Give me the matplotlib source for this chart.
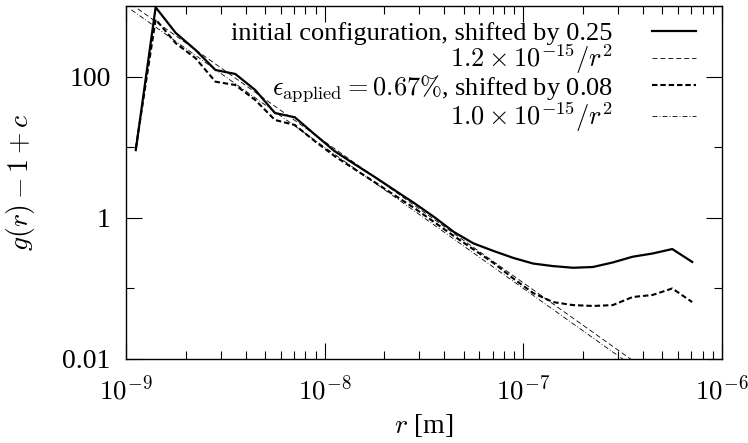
import numpy as np
import matplotlib
matplotlib.use("Agg")
import matplotlib.pyplot as plt
from matplotlib.ticker import LogLocator, FixedLocator, FixedFormatter, NullFormatter

plt.rcParams['font.family'] = ['Liberation Serif', 'DejaVu Serif']
plt.rcParams['mathtext.fontset'] = 'cm'
plt.rcParams['font.size'] = 20

# radial bins [m]
r = [1.12e-9, 1.41e-9, 1.78e-9, 2.24e-9, 2.82e-9, 3.55e-9, 4.47e-9, 5.62e-9,
     7.08e-9, 8.91e-9, 1.12e-8, 1.41e-8, 1.78e-8, 2.24e-8, 2.82e-8, 3.55e-8,
     4.47e-8, 5.62e-8, 7.08e-8, 8.91e-8, 1.12e-7, 1.41e-7, 1.78e-7, 2.24e-7,
     2.82e-7, 3.55e-7, 4.47e-7, 5.62e-7, 7.08e-7]

# g(r) - 1 + c, initial configuration (c = 0.25)
g_initial = [9.1, 960, 415, 238, 124, 109, 64.6, 30.5, 26.5, 15.2, 8.83, 5.78,
             3.81, 2.48, 1.62, 1.03, 0.63, 0.433, 0.339, 0.270, 0.225, 0.207,
             0.196, 0.201, 0.233, 0.281, 0.312, 0.361, 0.237]

# g(r) - 1 + c, eps_applied = 0.67% (c = 0.08)
g_strained = [9.6, 648, 297, 182, 84.7, 76, 46.7, 24.3, 20.6, 12.2, 7.5, 4.91,
              3.21, 2.10, 1.38, 0.873, 0.552, 0.356, 0.229, 0.138, 0.086, 0.064,
              0.058, 0.0564, 0.058, 0.0755, 0.0807, 0.0998, 0.064]

# power-law fits A / r^2
fit_coef = [1.2e-15, 1.0e-15]

fig = plt.figure(figsize=(7.48, 4.43), dpi=100)
ax = fig.add_axes([126 / 748, 1 - 359 / 443, 596 / 748, 353 / 443])

r_fit = np.array([r[0] * 0.95, 1e-6])

ax.plot(r, g_initial, color='black', lw=1.6,
        label='initial configuration, shifted by 0.25')
ax.plot(r_fit, fit_coef[0] / r_fit**2, color='black', lw=0.6,
        dashes=(6, 3.5), label=r'$1.2 \times 10^{-15}/r^2$')
ax.plot(r, g_strained, color='black', lw=1.5, dashes=(2.6, 1.4),
        label=r'$\epsilon_{\rm applied} = 0.67\%$, shifted by 0.08')
ax.plot(r_fit, fit_coef[1] / r_fit**2, color='black', lw=0.6,
        dashes=(6, 2.5, 1, 2.5), label=r'$1.0 \times 10^{-15}/r^2$')

ax.set_xscale('log')
ax.set_yscale('log')
ax.set_xlim(1e-9, 1e-6)
ax.set_ylim(0.01, 1000)

# x: decades labelled, minor ticks 2..9
ax.xaxis.set_major_locator(FixedLocator([1e-9, 1e-8, 1e-7, 1e-6]))
ax.xaxis.set_major_formatter(FixedFormatter([r'$10^{-9}$', r'$10^{-8}$',
                                             r'$10^{-7}$', r'$10^{-6}$']))
ax.xaxis.set_minor_locator(LogLocator(base=10, subs=np.arange(2, 10), numticks=20))
ax.xaxis.set_minor_formatter(NullFormatter())

# y: labels every other decade
ax.yaxis.set_major_locator(FixedLocator([0.01, 1, 100]))
ax.yaxis.set_major_formatter(FixedFormatter(['0.01', '1', '100']))
ax.yaxis.set_minor_locator(FixedLocator([0.1, 10, 1000]))
ax.yaxis.set_minor_formatter(NullFormatter())

ax.tick_params(which='both', direction='in', top=True, right=True, width=0.8)
ax.tick_params(axis='x', which='major', length=11.5, pad=12, labelsize=19.5)
ax.tick_params(axis='y', which='major', length=11.5, pad=11)
ax.tick_params(which='minor', length=5.8)
for s in ax.spines.values():
    s.set_linewidth(1.0)

ax.set_xlabel(r'$r$ [m]', labelpad=5)
ax.set_ylabel(r'$g(r) - 1 + c$', labelpad=18)

ax.legend(loc='upper right', bbox_to_anchor=(0.974, 0.985), frameon=False,
          markerfirst=False, handlelength=1.65, handletextpad=1.5,
          labelspacing=-0.12, borderaxespad=0, fontsize=19)

fig.savefig('out.png', dpi=100)
